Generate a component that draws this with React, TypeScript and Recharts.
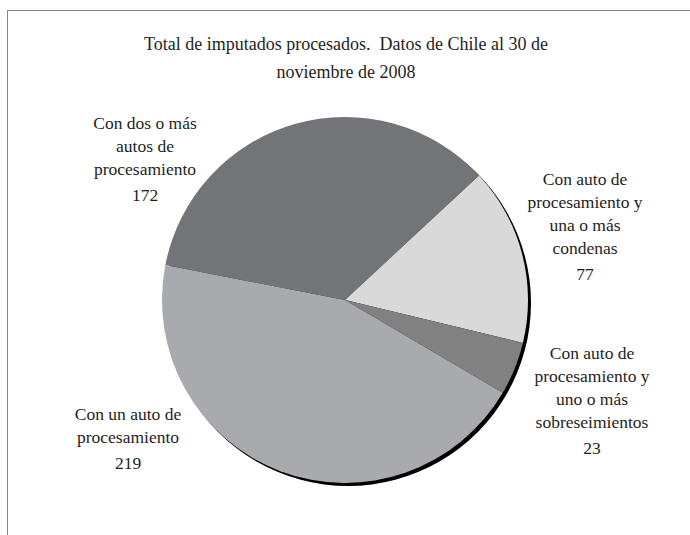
import { PieChart, Pie, Cell } from "recharts";

const categories = [
  ["Con dos o más", "autos de", "procesamiento"],
  ["Con auto de", "procesamiento y", "una o más", "condenas"],
  ["Con auto de", "procesamiento y", "uno o más", "sobreseimientos"],
  ["Con un auto de", "procesamiento"],
];
const values = [172, 77, 23, 219];
const colors = ["#737478", "#d9d9d9", "#818181", "#a9aaae"];

const titleLines = [
  "Total de imputados procesados.\u00a0 Datos de Chile al 30 de",
  "noviembre de 2008",
];

// label anchor relative to pie centre (first line centre), hand-placed like the original
const labelOffsets = [
  [-200, -175],
  [240, -119],
  [247, 55],
  [-217, 116],
];

const data = values.map((v, i) => ({ name: categories[i].join(" "), value: v }));

const FONT = "Times New Roman, Liberation Serif, Tinos, DejaVu Serif, Noto Serif, serif";

function renderLabel(props: any) {
  const { cx, cy, index } = props;
  const lines = categories[index];
  const [dx, dy] = labelOffsets[index];
  const x = cx + dx;
  const y0 = cy + dy;
  return (
    <text
      key={index}
      x={x}
      textAnchor="middle"
      fontFamily={FONT}
      fontSize={17.5}
      fill="#1e1e1e"
    >
      {lines.map((l, i) => (
        <tspan key={i} x={x} y={y0 + i * 23} dominantBaseline="middle">
          {l}
        </tspan>
      ))}
      <tspan x={x} y={y0 + (lines.length - 1) * 23 + 26} dominantBaseline="middle">
        {values[index]}
      </tspan>
    </text>
  );
}

export default function App() {
  return (
    <div
      style={{
        position: "absolute",
        left: 0,
        top: 0,
        width: 690,
        height: 535,
        background: "#fff",
        overflow: "hidden",
      }}
    >
      <div
        style={{
          position: "absolute",
          left: 7,
          top: 10,
          width: 700,
          height: 540,
          borderTop: "1px solid #878787",
          borderLeft: "1px solid #878787",
        }}
      />
      <div
        style={{
          position: "absolute",
          left: 0,
          top: 30,
          width: 692,
          textAlign: "center",
          fontFamily: FONT,
          fontSize: 18,
          lineHeight: "28px",
          color: "#1e1e1e",
        }}
      >
        {titleLines.map((t, i) => (
          <div key={i}>{t}</div>
        ))}
      </div>
      <div style={{ position: "absolute", left: 0, top: 0 }}>
        <PieChart width={690} height={535} margin={{ top: 0, right: 0, bottom: 0, left: 0 }}>
          <Pie
            data={[{ name: "shadow", value: 1 }]}
            dataKey="value"
            cx={348}
            cy={303}
            outerRadius={183}
            startAngle={0}
            endAngle={360}
            fill="#000"
            stroke="none"
            isAnimationActive={false}
          />
          <Pie
            data={data}
            dataKey="value"
            cx={345}
            cy={300}
            outerRadius={183}
            startAngle={169}
            endAngle={-191}
            stroke="none"
            label={renderLabel}
            labelLine={false}
            isAnimationActive={false}
          >
            {data.map((d, i) => (
              <Cell key={d.name} fill={colors[i]} />
            ))}
          </Pie>
        </PieChart>
      </div>
    </div>
  );
}
